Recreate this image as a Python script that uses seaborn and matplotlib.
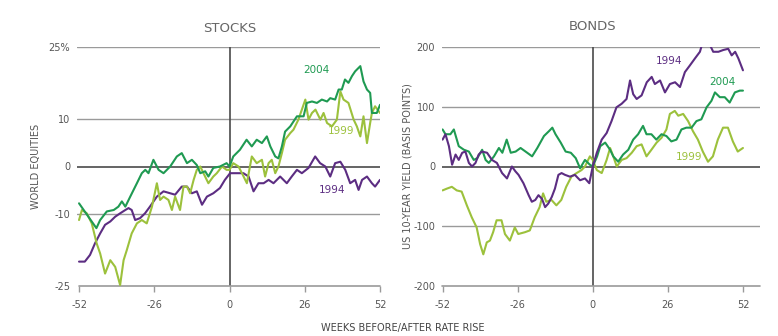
import matplotlib
matplotlib.use("Agg")
import matplotlib.pyplot as plt
import seaborn as sns
import pandas as pd

# ---------------- data ----------------
stocks_2004_w = [-52, -46, -44.7, -42.4, -40, -38.4, -37.2, -36, -34.3, -32, -30.3, -29.1, -28, -26.3, -24.5, -22.8, -20.5, -18.2, -16.5, -14.7, -13, -11.3, -10.1, -8.4, -7.3, -5.6, -3.3, -1, 0, 1.3, 3.6, 5.9, 7.7, 9.4, 11.2, 12.9, 14.1, 15.8, 16.9, 18.1, 19.2, 21, 23.3, 25.6, 26.7, 28.5, 30.2, 31.9, 33.7, 34.8, 36.5, 37.7, 38.8, 39.9, 41.1, 42.3, 43.4, 45.2, 46.3, 47.5, 48.6, 49.2, 50.9, 52]
stocks_2004_v = [-7.7, -12.9, -11.2, -9.4, -9.1, -8.4, -7.3, -8.4, -6.3, -3.5, -1.4, -0.7, -1.4, 1.4, -0.7, -1.4, 0, 2.1, 2.8, 0.7, 1.4, 0.3, -1.4, -1.0, -2.1, -0.3, 0, 0.7, 0, 2.1, 3.5, 5.6, 4.2, 5.6, 4.9, 6.3, 4.2, 2.1, 1.7, 4.2, 7.3, 8.4, 10.5, 10.5, 13.3, 13.6, 13.3, 14.0, 13.6, 14.3, 14.0, 16.1, 16.1, 18.2, 17.5, 18.9, 19.9, 21.0, 17.8, 16.1, 15.4, 11.2, 11.2, 12.9]

stocks_1999_w = [-52, -51, -49.3, -47.6, -45.9, -44.7, -43, -41.2, -39.5, -37.8, -36.6, -35.5, -33.8, -32, -30.3, -28.6, -26.8, -25.1, -24, -22.8, -21.1, -19.9, -18.8, -17.1, -15.9, -14.7, -13.6, -12.4, -11.3, -10.1, -9, -7.3, -5.6, -4.4, -2.6, -1, 0, 1.3, 3.1, 4.3, 6, 7.7, 9.4, 11.2, 12.3, 13.5, 14.6, 15.8, 16.9, 18.1, 19.2, 21, 22.1, 23.8, 25, 26.2, 27.3, 28.5, 29.7, 31.4, 32.5, 33.7, 35.4, 37.1, 38.3, 39.4, 41.1, 42.9, 44, 45.2, 46.3, 47.5, 48.6, 49.2, 50.3, 52]
stocks_1999_v = [-11.2, -9.1, -9.8, -11.9, -16.1, -18.2, -22.4, -19.6, -21.0, -24.8, -19.6, -17.5, -14.0, -11.9, -11.2, -11.9, -8.4, -3.5, -7.0, -6.3, -7.0, -9.1, -6.3, -9.1, -4.2, -4.2, -5.6, -2.8, -0.7, 0, -1.4, -3.5, -2.1, -1.4, 0, -0.7, -0.7, 0.7, 0, -1.4, -3.5, 2.1, 0.7, 1.4, -2.1, 0.7, 1.4, -1.4, 0, 2.8, 5.6, 7.0, 7.7, 9.8, 11.9, 14.0, 9.8, 11.2, 11.9, 9.8, 11.2, 9.1, 8.4, 9.8, 15.7, 14.0, 13.3, 9.8, 8.4, 6.3, 10.5, 4.9, 9.1, 11.2, 12.6, 11.2]

stocks_1994_w = [-52, -50, -48.2, -46.5, -44.7, -43, -41.2, -39.5, -37.8, -36, -34.9, -33.8, -32.6, -30.9, -29.2, -27.5, -25.1, -22.8, -20.5, -18.8, -16.5, -14.7, -13, -11.3, -9.5, -7.8, -5.6, -3.3, -1.6, 0.2, 2.5, 4.8, 6.6, 8.3, 10, 11.8, 13.5, 15.2, 17.5, 19.8, 21.5, 23.3, 25, 27.3, 29.6, 31.3, 33.1, 34.8, 36.5, 38.3, 40, 41.7, 43.4, 44.6, 45.8, 47.5, 49.2, 50.3, 52]
stocks_1994_v = [-19.9, -19.9, -18.5, -16.1, -14.0, -12.2, -11.5, -10.5, -9.8, -9.1, -8.7, -9.1, -11.2, -10.8, -9.8, -8.4, -6.3, -5.2, -5.6, -5.9, -4.2, -4.2, -5.6, -5.2, -8.0, -6.3, -5.6, -4.5, -2.8, -1.4, -1.4, -1.4, -2.1, -5.2, -3.5, -3.5, -2.8, -3.5, -2.1, -3.5, -2.1, -0.7, -1.4, -0.3, 2.1, 0.7, 0, -2.1, 0.7, 1.0, -0.7, -3.5, -2.8, -4.9, -2.8, -2.1, -3.5, -4.2, -2.8]

bonds_1994_w = [-52, -51, -49.8, -48.7, -47.5, -46.4, -45.2, -44.1, -42.9, -41.8, -40.6, -39.5, -38.4, -36.6, -34.9, -33.2, -31.4, -29.7, -28, -26.8, -25.7, -24, -22.2, -21.1, -19.9, -18.8, -17.6, -16.5, -15.4, -14.2, -13.1, -11.9, -10.8, -9.6, -7.9, -6.2, -4.4, -2.7, -1.2, 0, 1.4, 3.1, 4.8, 6.5, 8.2, 10, 11.7, 12.9, 14, 15.2, 16.9, 18.7, 20.4, 21.5, 23.3, 25, 26.7, 28.5, 30.2, 31.9, 33.6, 35.4, 37.1, 38.3, 40, 41.7, 43.5, 45.2, 46.9, 48.1, 49.3, 50.4, 52]
bonds_1994_v = [45, 54, 34, 3, 20, 11, 23, 25, 6, 0, 6, 20, 25, 23, 11, 6, -11, -20, 0, -8, -14, -28, -48, -59, -56, -48, -54, -68, -62, -51, -37, -14, -11, -14, -17, -14, -23, -20, -28, 0, 23, 45, 56, 76, 99, 105, 113, 144, 121, 113, 119, 141, 150, 138, 144, 124, 138, 141, 133, 158, 169, 181, 192, 212, 209, 192, 192, 195, 197, 186, 192, 181, 161]

bonds_2004_w = [-52, -51, -49.3, -48.1, -46.4, -44.6, -42.9, -41.2, -40, -38.3, -37.1, -36, -34.2, -32.5, -31.3, -29.8, -28.4, -26.7, -25, -22.7, -21, -19.2, -16.9, -15.2, -14, -12.9, -11.1, -9.4, -7.6, -5.9, -4.4, -2.7, -1, 0, 1.5, 2.6, 4.3, 6, 7.1, 8.8, 10.5, 12.3, 14, 15.7, 17.4, 18.6, 20.3, 22, 23.8, 25.5, 27.2, 29, 30.7, 32.4, 34.2, 35.9, 37.6, 39.4, 41.1, 42.3, 44, 45.7, 47.4, 49.2, 50.9, 52]
bonds_2004_v = [62, 54, 54, 62, 34, 28, 25, 11, 14, 28, 11, 6, 17, 31, 23, 45, 23, 25, 31, 23, 17, 31, 51, 59, 65, 54, 40, 25, 23, 14, -3, 11, 3, 0, 17, 34, 40, 28, 17, 8, 20, 28, 45, 54, 68, 54, 54, 45, 54, 51, 42, 45, 62, 65, 65, 76, 79, 99, 110, 124, 116, 116, 107, 124, 127, 127]

bonds_1999_w = [-52, -50.5, -48.8, -47.1, -45.4, -43.6, -41.9, -40.2, -39, -37.9, -36.7, -35.6, -34.5, -33.3, -31.6, -30.4, -28.7, -27, -25.8, -23.5, -21.8, -20.1, -18.4, -17.2, -16.1, -14.3, -12.6, -10.9, -9.2, -7.4, -5.6, -3.9, -2.7, -1, 0, 1.4, 3.1, 4.8, 6, 7.1, 8.3, 10, 11.7, 13.5, 15.2, 16.9, 18.6, 20.3, 22.1, 23.8, 25.5, 26.7, 28.4, 29.6, 31.3, 33, 34.7, 36.4, 38.1, 39.9, 41.6, 43.3, 45.1, 46.8, 48.5, 50.2, 52]
bonds_1999_v = [-40, -37, -34, -40, -42, -65, -85, -102, -130, -147, -127, -124, -110, -90, -90, -113, -124, -102, -113, -110, -107, -85, -68, -45, -59, -56, -65, -56, -34, -17, -11, -6, 0, 17, 11, -6, -11, 11, 31, 17, 0, 11, 14, 23, 34, 37, 17, 28, 40, 48, 62, 88, 93, 85, 88, 76, 59, 45, 25, 8, 17, 45, 65, 65, 42, 25, 31]

x_ticks = [-52, -26, 0, 26, 52]
stocks_yticks = [25, 10, 0, -10, -25]
stocks_ylabels = ["25%", "10", "0", "-10", "-25"]
bonds_yticks = [200, 100, 0, -100, -200]
bonds_ylabels = ["200", "100", "0", "-100", "-200"]

# ---------------- style ----------------
sns.set_theme(style="white")
plt.rcParams['font.family'] = ['DejaVu Sans']

PURPLE = "#5c2d82"
DGREEN = "#1f9a52"
LGREEN = "#9cc13c"
GRID = "#9a9a9a"
DARK = "#4a4a4a"
TXT = "#555555"

fig = plt.figure(figsize=(7.78, 3.36), dpi=100)
W, H = 778, 336
axL = fig.add_axes([77 / W, (H - 286) / H, (380 - 77) / W, (286 - 47) / H])
axR = fig.add_axes([442 / W, (H - 286) / H, (760 - 442) / W, (286 - 47) / H])


def frame(ax, xlim, ylim, yticks, ylabels, xaxis_from):
    ax.set_xlim(*xlim)
    ax.set_ylim(*ylim)
    for s in ax.spines.values():
        s.set_visible(False)
    for yv in yticks[:-1]:
        ax.axhline(yv, color=DARK if yv == 0 else GRID, lw=1.2 if yv == 0 else 1.0, zorder=1)
    ax.axvline(0, color=DARK, lw=1.2, zorder=1)
    ax.plot([xaxis_from, xlim[1]], [ylim[0], ylim[0]], color=GRID, lw=1.2, clip_on=False, zorder=1)
    ax.set_xticks(x_ticks)
    ax.set_xticklabels([str(t) for t in x_ticks])
    ax.set_yticks(yticks)
    ax.set_yticklabels(ylabels)
    ax.tick_params(axis='x', length=4, width=1, color=GRID, direction='out', pad=6,
                   labelsize=7, labelcolor=TXT, bottom=True)
    ax.tick_params(axis='y', length=0, pad=5, labelsize=7, labelcolor=TXT, left=True)
    ax.set_xlabel("")
    ax.set_ylabel("")


def draw(ax, w, v, color):
    df = pd.DataFrame({"week": w, "value": v})
    sns.lineplot(data=df, x="week", y="value", ax=ax, color=color, lw=1.5,
                 estimator=None, sort=False, zorder=3)


# Stocks panel
draw(axL, stocks_1994_w, stocks_1994_v, PURPLE)
draw(axL, stocks_1999_w, stocks_1999_v, LGREEN)
draw(axL, stocks_2004_w, stocks_2004_v, DGREEN)
frame(axL, (-52.7, 52), (-25, 25), stocks_yticks, stocks_ylabels, -52)
axL.text(0, 27.5, "STOCKS", ha="center", va="bottom", fontsize=9.5, color="#666666")
axL.text(30, 20.2, "2004", color=DGREEN, fontsize=7.5, ha="center", va="center")
axL.text(38.5, 7.4, "1999", color=LGREEN, fontsize=7.5, ha="center", va="center")
axL.text(35.5, -5.0, "1994", color=PURPLE, fontsize=7.5, ha="center", va="center")
axL.text(-0.135, 0.5, "WORLD EQUITIES", transform=axL.transAxes, rotation=90,
         ha="center", va="center", fontsize=7, color=TXT)

# Bonds panel
draw(axR, bonds_1999_w, bonds_1999_v, LGREEN)
draw(axR, bonds_2004_w, bonds_2004_v, DGREEN)
draw(axR, bonds_1994_w, bonds_1994_v, PURPLE)
frame(axR, (-52.2, 57.9), (-200, 200), bonds_yticks, bonds_ylabels, -52.2)
axR.text(0, 223, "BONDS", ha="center", va="bottom", fontsize=9.5, color="#666666")
axR.text(26.5, 176, "1994", color=PURPLE, fontsize=7.5, ha="center", va="center")
axR.text(45, 141, "2004", color=DGREEN, fontsize=7.5, ha="center", va="center")
axR.text(33.5, 16, "1999", color=LGREEN, fontsize=7.5, ha="center", va="center")
axR.text(-0.108, 0.5, "US 10-YEAR YIELD (BASIS POINTS)", transform=axR.transAxes, rotation=90,
         ha="center", va="center", fontsize=7, color=TXT)

fig.text(403 / W, 1 - 328 / H, "WEEKS BEFORE/AFTER RATE RISE", ha="center", va="center",
         fontsize=7, color="#444444")

fig.savefig("out.png", dpi=100)
